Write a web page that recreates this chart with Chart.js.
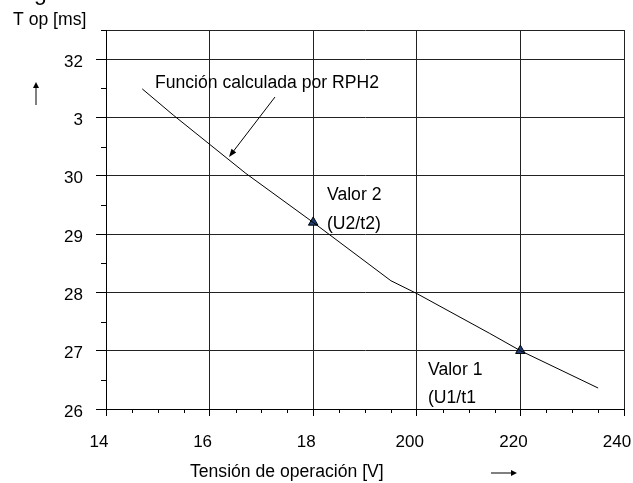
<!DOCTYPE html>
<html>
<head>
<meta charset="utf-8">
<script src="https://cdn.jsdelivr.net/npm/chart.js@4.4.1/dist/chart.umd.min.js"></script>
<style>
	html, body { margin: 0; padding: 0; background: #fff; }
	#wrap { width: 633px; height: 483px; }
</style>
</head>
<body>
<div id="wrap"><canvas id="myChart" width="633" height="483"></canvas></div>
<script>
// curva calculada (tensión vs tiempo)
const curvaX = [147, 153, 160, 167, 180, 195, 200, 214, 220, 235];
const curvaY = [31.49, 31.04, 30.54, 30.04, 29.2, 28.2, 27.98, 27.3, 27.0, 26.36];

// valores medidos: Valor 2, Valor 1
const valorX = [180, 220];
const valorY = [29.2, 27.0];

// ticks del eje x y sus etiquetas (tal como aparecen)
const xTicks = [140, 160, 180, 200, 220, 240];
const xLabels = ['14', '16', '18', '200', '220', '240'];

// ticks del eje y y sus etiquetas
const yTicks = [26, 27, 28, 29, 30, 31, 32, 32.5];
const yLabels = ['26', '27', '28', '29', '30', '3', '32', ''];

const FONT = "'Liberation Sans', Arial, sans-serif";
Chart.defaults.font.family = FONT;
Chart.defaults.font.size = 17;
Chart.defaults.color = '#000';

function flecha(ctx, x1, y1, x2, y2, largo, ancho) {
	const ang = Math.atan2(y2 - y1, x2 - x1);
	ctx.beginPath();
	ctx.moveTo(x1, y1);
	ctx.lineTo(x2 - Math.cos(ang) * largo * 0.6, y2 - Math.sin(ang) * largo * 0.6);
	ctx.stroke();
	ctx.beginPath();
	ctx.moveTo(x2, y2);
	ctx.lineTo(x2 - Math.cos(ang) * largo + Math.sin(ang) * ancho, y2 - Math.sin(ang) * largo - Math.cos(ang) * ancho);
	ctx.lineTo(x2 - Math.cos(ang) * largo - Math.sin(ang) * ancho, y2 - Math.sin(ang) * largo + Math.cos(ang) * ancho);
	ctx.closePath();
	ctx.fill();
}

// ticks menores y textos sueltos
const extras = {
	id: 'extras',
	afterDraw(chart) {
		const ctx = chart.ctx;
		const xs = chart.scales.x, ys = chart.scales.y;
		const area = chart.chartArea;
		ctx.save();
		ctx.strokeStyle = '#000';
		ctx.fillStyle = '#000';
		ctx.lineWidth = 1;

		// menores en y (cada 0.5)
		for (let v = 26.5; v <= 32.5; v += 1) {
			const py = Math.round(ys.getPixelForValue(v)) + 0.5;
			ctx.beginPath();
			ctx.moveTo(area.left - 5, py);
			ctx.lineTo(area.left, py);
			ctx.stroke();
		}
		// menores en x (cada 5)
		for (let v = 145; v < 240; v += 5) {
			if (v % 20 === 0) continue;
			const px = Math.round(xs.getPixelForValue(v)) + 0.5;
			ctx.beginPath();
			ctx.moveTo(px, area.bottom);
			ctx.lineTo(px, area.bottom + 4);
			ctx.stroke();
		}

		ctx.font = '17.6px ' + FONT;
		ctx.textBaseline = 'alphabetic';
		ctx.textAlign = 'left';
		ctx.fillText('T op [ms]', 13, 25);
		ctx.fillText('Función calculada por RPH2', 155, 88);
		ctx.fillText('Valor 2', 327, 200);
		ctx.fillText('(U2/t2)', 327, 229);
		ctx.fillText('Valor 1', 428, 375);
		ctx.fillText('(U1/t1', 428, 403);
		ctx.fillText('Tensión de operación [V]', 190, 477);

		ctx.font = '23px ' + FONT;
		ctx.fillText('g', 34, 0);

		// flechas
		flecha(ctx, 275, 97, 229, 157, 8, 3);
		flecha(ctx, 36, 105, 36, 82, 6, 3);
		flecha(ctx, 491, 473, 517, 473, 6, 3);
		ctx.restore();
	}
};

const data = {
	datasets: [
		{
			type: 'line',
			label: 'Función calculada por RPH2',
			data: curvaX.map((x, i) => ({ x: x, y: curvaY[i] })),
			borderColor: '#000',
			borderWidth: 1,
			pointRadius: 0,
			tension: 0,
			fill: false
		},
		{
			type: 'scatter',
			label: 'Valores',
			data: valorX.map((x, i) => ({ x: x, y: valorY[i] })),
			pointStyle: 'triangle',
			pointRadius: 5.5,
			backgroundColor: '#1F3F78',
			borderColor: '#000',
			borderWidth: 1
		}
	]
};

const config = {
	type: 'scatter',
	data: data,
	options: {
		responsive: false,
		animation: false,
		layout: { padding: { left: 0, right: 9, top: 30, bottom: 0 } },
		plugins: {
			legend: { display: false },
			tooltip: { enabled: false },
			title: { display: false }
		},
		scales: {
			x: {
				type: 'linear',
				min: 140,
				max: 240,
				afterBuildTicks: s => { s.ticks = xTicks.map(v => ({ value: v })); },
				afterFit: s => { s.height = 74; s.paddingLeft = 0; s.paddingRight = 0; },
				grid: { color: '#222', lineWidth: 1, tickLength: 7, tickColor: '#000' },
				border: { display: true, color: '#000' },
				ticks: {
					autoSkip: false,
					maxRotation: 0,
					padding: 16,
					labelOffset: -7,
					callback: (v, i) => xLabels[i]
				}
			},
			y: {
				type: 'linear',
				min: 26,
				max: 32.5,
				afterBuildTicks: s => { s.ticks = yTicks.map(v => ({ value: v })); },
				afterFit: s => { s.width = 106; s.paddingTop = 0; s.paddingBottom = 0; },
				grid: {
					color: '#222',
					lineWidth: 1,
					tickLength: 10,
					tickColor: c => (c.tick && c.tick.value === 32.5) ? 'rgba(0,0,0,0)' : '#000'
				},
				border: { display: true, color: '#000' },
				ticks: {
					autoSkip: false,
					padding: 13,
					labelOffset: 3,
					callback: (v, i) => yLabels[i]
				}
			}
		}
	},
	plugins: [extras]
};

const ctx = document.getElementById('myChart').getContext('2d');
const chart = new Chart(ctx, config);
</script>
</body>
</html>
